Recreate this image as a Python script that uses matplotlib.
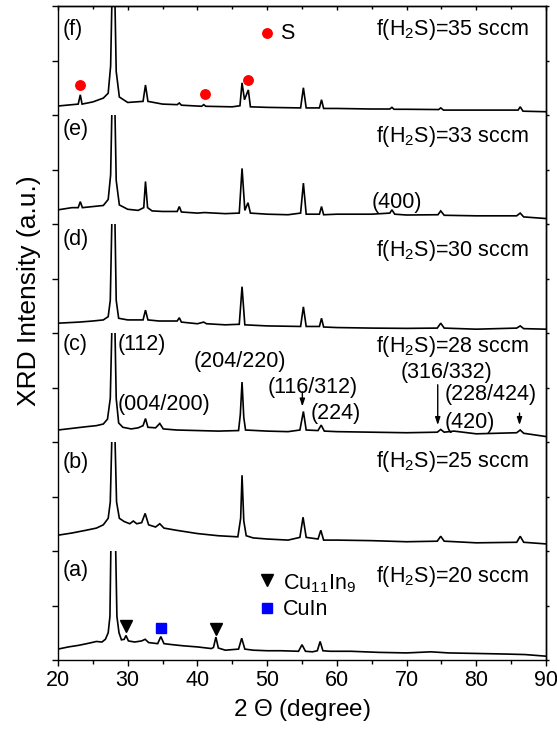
import matplotlib
matplotlib.use("Agg")
import matplotlib.pyplot as plt
from matplotlib.patches import Rectangle
from matplotlib.ticker import MultipleLocator

plt.rcParams['font.family'] = ['Liberation Sans', 'DejaVu Sans']
plt.rcParams['mathtext.fontset'] = 'custom'
plt.rcParams['mathtext.rm'] = 'Liberation Sans'
plt.rcParams['mathtext.it'] = 'Liberation Sans:italic'

# ---------------- data (2-theta, intensity in panel units: 0 = panel bottom, 2 = panel top)
a_x = [20, 21.5, 23, 24.5, 25.5, 26.3, 26.8, 27.2, 27.45, 27.6, 28.25, 28.45, 28.75, 29.1, 29.5, 29.75, 30.1, 31, 32, 32.5, 33,
       34.3, 34.75, 35.2, 36.5, 38, 40, 42, 42.3, 42.65, 43.0, 44, 45.9, 46.35, 46.8, 48, 50, 52, 54.5, 55.0, 55.5, 56.5,
       57.2, 57.6, 58.0, 59, 62, 66, 70, 73.5, 76, 80, 84, 87, 90]
a_y = [0.20, 0.24, 0.27, 0.31, 0.34, 0.33, 0.38, 0.5, 0.8, 2.2, 2.2, 0.8, 0.5, 0.37, 0.38, 0.45, 0.35, 0.33, 0.35, 0.38, 0.32,
       0.30, 0.43, 0.30, 0.28, 0.26, 0.24, 0.21, 0.23, 0.42, 0.22, 0.18, 0.20, 0.40, 0.20, 0.18, 0.17, 0.17, 0.16, 0.28, 0.16, 0.15,
       0.17, 0.34, 0.17, 0.16, 0.16, 0.14, 0.13, 0.15, 0.13, 0.12, 0.11, 0.10, 0.07]

b_x = [20, 22, 24, 25.5, 26.5, 27.2, 27.5, 27.75, 28.15, 28.4, 28.8, 29.5, 30.3, 30.8, 31.3, 32.0, 32.5, 33.0, 34, 34.6, 35.2,
       37, 40, 43, 45.8, 46.2, 46.4, 46.65, 47.0, 48, 50, 53, 54.7, 55.15, 55.6, 57.3, 57.7, 58.1, 60, 65, 70, 74.4, 74.9,
       75.4, 77, 80, 85.8, 86.3, 86.8, 90]
b_y = [0.29, 0.33, 0.38, 0.42, 0.48, 0.6, 0.9, 2.2, 2.2, 0.9, 0.6, 0.54, 0.5, 0.55, 0.5, 0.52, 0.69, 0.48, 0.44, 0.5, 0.42,
       0.38, 0.32, 0.28, 0.26, 0.6, 1.39, 0.55, 0.28, 0.24, 0.22, 0.2, 0.25, 0.62, 0.25, 0.22, 0.38, 0.2, 0.2, 0.19, 0.17, 0.18, 0.27,
       0.18, 0.17, 0.15, 0.16, 0.27, 0.16, 0.13]

c_x = [20, 22, 24, 25.5, 26.5, 27.1, 27.5, 27.75, 28.15, 28.35, 28.7, 29.3, 30.5, 31.5, 32.2, 32.55, 32.9, 34.0, 34.6, 35.1,
       37, 40, 43, 45.9, 46.15, 46.4, 46.65, 46.9, 50, 53, 54.7, 55.2, 55.6, 57.3, 57.75, 58.2, 60, 65, 70, 74.4, 74.9, 75.4,
       76.8, 80, 85.8, 86.3, 86.8, 90]
c_y = [0.22, 0.25, 0.28, 0.3, 0.33, 0.42, 0.8, 2.2, 2.2, 0.8, 0.35, 0.27, 0.24, 0.26, 0.3, 0.43, 0.27, 0.26, 0.34, 0.24,
       0.22, 0.21, 0.2, 0.21, 0.5, 1.1, 0.45, 0.22, 0.2, 0.19, 0.22, 0.56, 0.22, 0.21, 0.31, 0.2, 0.19, 0.18, 0.17, 0.18, 0.23, 0.18,
       0.2, 0.15, 0.17, 0.22, 0.16, 0.1]

d_x = [20, 23, 25, 26.5, 27.2, 27.5, 27.75, 28.15, 28.35, 28.7, 30, 32.2, 32.55, 32.9, 34.5, 37.1, 37.4, 37.7, 40, 40.9, 41.3,
       44, 46.0, 46.4, 46.8, 50, 54.8, 55.2, 55.6, 57.5, 57.8, 58.1, 60, 65, 70, 74.4, 74.9, 75.4, 80, 85.8, 86.3, 86.8, 90]
d_y = [0.18, 0.2, 0.22, 0.24, 0.3, 0.6, 2.2, 2.2, 0.6, 0.27, 0.24, 0.24, 0.42, 0.24, 0.22, 0.22, 0.28, 0.2, 0.17, 0.2, 0.17,
       0.15, 0.16, 0.85, 0.15, 0.13, 0.12, 0.48, 0.12, 0.12, 0.27, 0.11, 0.1, 0.09, 0.085, 0.09, 0.18, 0.09, 0.07, 0.09, 0.13, 0.08, 0.07]

e_x = [20, 22, 22.9, 23.2, 23.5, 25, 26.5, 27.2, 27.55, 27.75, 28.15, 28.35, 28.8, 30, 31.5, 32.3, 32.55, 32.85, 33.5, 35,
       37.1, 37.4, 37.7, 40, 41, 44, 46.0, 46.4, 46.8, 47.25, 47.6, 50, 53, 54.8, 55.2, 55.6, 57.5, 57.8, 58.1, 60, 65, 67.6,
       67.9, 68.3, 70, 74.5, 74.9, 75.4, 80, 85.8, 86.3, 86.8, 90]
e_y = [0.26, 0.3, 0.3, 0.41, 0.3, 0.32, 0.34, 0.45, 0.9, 2.2, 2.2, 0.8, 0.35, 0.27, 0.25, 0.3, 0.78, 0.3, 0.24, 0.23,
       0.23, 0.32, 0.22, 0.2, 0.21, 0.19, 0.2, 1.02, 0.25, 0.39, 0.2, 0.18, 0.17, 0.2, 0.75, 0.18, 0.18, 0.32, 0.17, 0.18, 0.18, 0.2,
       0.26, 0.18, 0.165, 0.17, 0.24, 0.16, 0.15, 0.15, 0.2, 0.13, 0.1]

f_x = [20, 22.9, 23.2, 23.45, 25, 26.5, 27.2, 27.55, 27.75, 28.15, 28.35, 28.8, 30, 32.2, 32.55, 32.9, 35, 37.1, 37.4, 37.7,
       40.6, 40.9, 41.2, 45, 46.1, 46.4, 46.75, 47.3, 47.6, 50, 54.8, 55.2, 55.6, 57.5, 57.8, 58.1, 60, 65, 67.6, 67.9, 68.2,
       70, 74.6, 74.9, 75.3, 80, 86.0, 86.3, 86.7, 90]
f_y = [0.165, 0.2, 0.37, 0.2, 0.24, 0.31, 0.4, 0.9, 2.2, 2.2, 0.8, 0.33, 0.23, 0.25, 0.55, 0.25, 0.2, 0.19, 0.22, 0.18,
       0.16, 0.19, 0.16, 0.15, 0.17, 0.59, 0.28, 0.46, 0.15, 0.14, 0.13, 0.5, 0.13, 0.13, 0.28, 0.12, 0.12, 0.11, 0.11, 0.14, 0.105,
       0.105, 0.1, 0.13, 0.09, 0.09, 0.09, 0.15, 0.07, 0.06]

panel_tags = ['(a)', '(b)', '(c)', '(d)', '(e)', '(f)']
flow_labels = ['20', '25', '28', '30', '33', '35']
traces_x = [a_x, b_x, c_x, d_x, e_x, f_x]
traces_y = [a_y, b_y, c_y, d_y, e_y, f_y]

# peak index labels (panel c) and (e)
hkl_labels = ['(112)', '(204/220)', '(004/200)', '(116/312)', '(224)', '(316/332)', '(228/424)', '(420)', '(400)']
hkl_x = [28.6, 39.5, 28.6, 50.1, 56.2, 69.1, 75.5, 75.5, 65.0]
hkl_y = [5.69, 5.38, 4.59, 4.90, 4.42, 5.17, 4.77, 4.25, 8.29]

arrow_x = [55.05, 74.47, 86.2]
arrow_y0 = [4.92, 5.05, 4.53]
arrow_y1 = [4.65, 4.31, 4.31]

s_x = [23.2, 41.1, 47.3]
s_y = [10.55, 10.39, 10.64]
cu11in9_x = [29.75, 42.63]
cu11in9_y = [0.62, 0.56]
cuin_x = [34.78]
cuin_y = [0.58]

# ---------------- figure
fig = plt.figure(figsize=(5.57, 7.31), dpi=100)
ax = fig.add_axes([58 / 557, 71 / 731, 488 / 557, 654 / 731])
ax.set_xlim(20, 90)
ax.set_ylim(0, 12)

for k in range(6):
    off = 2 * k
    ys = [v + off for v in traces_y[k]]
    ln, = ax.plot(traces_x[k], ys, color='black', lw=1.2, solid_joinstyle='miter')
    ln.set_clip_path(Rectangle((20, off), 70, 2, transform=ax.transData))

fs = 15.5
tag_y = [1.54, 3.52, 5.69, 7.61, 9.63, 11.47]
flow_y = [1.43, 3.55, 5.66, 7.41, 9.51, 11.47]
for k in range(6):
    ax.text(20.7, tag_y[k], panel_tags[k], fontsize=fs, ha='left', va='baseline')
    ax.text(87.43, flow_y[k], r'f(H$_2$S)=' + flow_labels[k] + ' sccm', fontsize=fs, ha='right', va='baseline')

for lab, x, y in zip(hkl_labels, hkl_x, hkl_y):
    ax.text(x, y, lab, fontsize=fs, ha='left', va='baseline')

for x, y0, y1 in zip(arrow_x, arrow_y0, arrow_y1):
    ax.annotate('', xy=(x, y1), xytext=(x, y0),
                arrowprops=dict(arrowstyle='-|>,head_length=0.45,head_width=0.15', color='black', lw=1.0,
                                shrinkA=0, shrinkB=0))

# S markers
ax.plot(s_x, s_y, 'o', color='red', ms=6.8, ls='none')
ax.plot([50.0], [11.5], 'o', color='red', ms=6.8)
ax.text(51.9, 11.39, 'S', fontsize=fs, ha='left', va='baseline')

# Cu11In9 / CuIn markers
ax.plot(cu11in9_x, cu11in9_y, 'v', color='black', ms=8.5, ls='none')
ax.plot(cuin_x, cuin_y, 's', color='blue', ms=6.5, ls='none')
ax.plot([49.95], [1.46], 'v', color='black', ms=8.5)
ax.plot([49.95], [0.96], 's', color='blue', ms=6.5)
ax.text(52.3, 1.30, r'Cu$_{11}$In$_9$', fontsize=fs, ha='left', va='baseline')
ax.text(52.2, 0.83, 'CuIn', fontsize=fs, ha='left', va='baseline')

# ---------------- axes styling
ax.xaxis.set_major_locator(MultipleLocator(10))
ax.xaxis.set_minor_locator(MultipleLocator(5))
ax.yaxis.set_major_locator(MultipleLocator(1))
ax.set_yticklabels([])
ax.tick_params(axis='x', which='major', direction='out', length=4.5, width=1, labelsize=15.5, pad=3)
ax.tick_params(axis='x', which='minor', direction='out', length=3, width=1)
ax.tick_params(axis='y', which='both', direction='out', length=4, width=1, left=True, right=False)
for s in ax.spines.values():
    s.set_linewidth(1.0)

top = ax.secondary_xaxis('top')
top.xaxis.set_major_locator(MultipleLocator(10))
top.xaxis.set_minor_locator(MultipleLocator(5))
top.tick_params(axis='x', which='major', direction='in', length=3, width=1, labeltop=False)
top.tick_params(axis='x', which='minor', direction='in', length=2, width=1)
top.spines['top'].set_linewidth(1.0)

right = ax.secondary_yaxis('right')
right.yaxis.set_major_locator(MultipleLocator(1))
right.tick_params(axis='y', which='major', direction='out', length=2, width=1, labelright=False)
right.spines['right'].set_linewidth(1.0)

ax.set_xlabel(r'2 $\Theta$ (degree)', fontsize=17.5, labelpad=4)
ax.set_ylabel('XRD Intensity (a.u.)', fontsize=19)
ax.yaxis.set_label_coords(-0.035, 0.565)

fig.savefig('out.png', dpi=100)
